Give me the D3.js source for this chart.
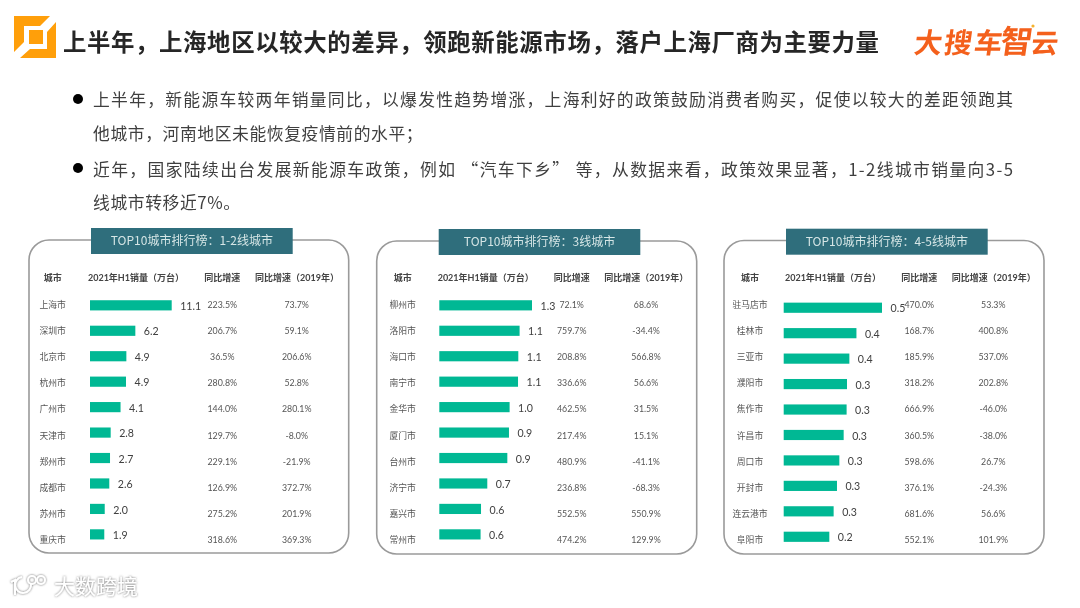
<!DOCTYPE html>
<html><head><meta charset="utf-8">
<script src="https://cdn.jsdelivr.net/npm/d3@7"></script>
<style>html,body{margin:0;padding:0;background:#fff;overflow:hidden}
svg{display:block;font-family:Lato,"Noto Sans CJK SC","Noto Sans",sans-serif}
.soft{filter:blur(0.4px)}</style>
</head><body><svg id="c" width="1080" height="608"></svg>
<script>
const titleText = "上半年，上海地区以较大的差异，领跑新能源市场，落户上海厂商为主要力量";
const bodyLines = [
 "上半年，新能源车较两年销量同比，以爆发性趋势增涨，上海利好的政策鼓励消费者购买，促使以较大的差距领跑其",
 "他城市，河南地区未能恢复疫情前的水平；",
 "近年，国家陆续出台发展新能源车政策，例如 “汽车下乡” 等，从数据来看，政策效果显著，1-2线城市销量向3-5",
 "线城市转移近7%。"
];
const headers = ["城市","2021年H1销量（万台）","同比增速","同比增速（2019年）"];

const titlesA = "TOP10城市排行榜：1-2线城市";
const citiesA = ["上海市","深圳市","北京市","杭州市","广州市","天津市","郑州市","成都市","苏州市","重庆市"];
const barsA   = [11.1,6.16,4.94,4.89,4.15,2.81,2.72,2.62,2.0,1.94];
const labelsA = ["11.1","6.2","4.9","4.9","4.1","2.8","2.7","2.6","2.0","1.9"];
const yoyA    = ["223.5%","206.7%","36.5%","280.8%","144.0%","129.7%","229.1%","126.9%","275.2%","318.6%"];
const yo19A   = ["73.7%","59.1%","206.6%","52.8%","280.1%","-8.0%","-21.9%","372.7%","201.9%","369.3%"];

const titlesB = "TOP10城市排行榜：3线城市";
const citiesB = ["柳州市","洛阳市","海口市","南宁市","金华市","厦门市","台州市","济宁市","嘉兴市","常州市"];
const barsB   = [1.3,1.126,1.108,1.104,0.986,0.977,0.954,0.673,0.585,0.579];
const labelsB = ["1.3","1.1","1.1","1.1","1.0","0.9","0.9","0.7","0.6","0.6"];
const yoyB    = ["72.1%","759.7%","208.8%","336.6%","462.5%","217.4%","480.9%","236.8%","552.5%","474.2%"];
const yo19B   = ["68.6%","-34.4%","566.8%","56.6%","31.5%","15.1%","-41.1%","-68.3%","550.9%","129.9%"];

const titlesC = "TOP10城市排行榜：4-5线城市";
const citiesC = ["驻马店市","桂林市","三亚市","濮阳市","焦作市","许昌市","周口市","开封市","连云港市","阜阳市"];
const barsC   = [0.5,0.37,0.334,0.322,0.32,0.305,0.283,0.271,0.254,0.232];
const labelsC = ["0.5","0.4","0.4","0.3","0.3","0.3","0.3","0.3","0.3","0.2"];
const yoyC    = ["470.0%","168.7%","185.9%","318.2%","666.9%","360.5%","598.6%","376.1%","681.6%","552.1%"];
const yo19C   = ["53.3%","400.8%","537.0%","202.8%","-46.0%","-38.0%","26.7%","-24.3%","56.6%","101.9%"];

const svg = d3.select("#c");
const root = svg.append("g").attr("class","soft");

// corner mark
const mark = root.append("g").attr("fill","#FF9F0A");
[[[14,16],[50,16],[40,26],[24,26],[24,42],[14,52]],
 [[56,22],[56,58],[20,58],[30,49],[47,49],[47,32]],
 [[29,30],[43,30],[43,44],[29,44]]].forEach(p=>mark.append("polygon").attr("points",p.join(" ")));

root.append("text").attr("x",63).attr("y",51).attr("font-size",23.4).attr("font-weight",700)
  .attr("fill","#262626").attr("textLength",816).attr("lengthAdjust","spacing").text(titleText);

// brand wordmark
const brand = root.append("g").attr("transform","translate(911,53) skewX(-8)")
  .attr("fill","#F4601C").attr("font-weight",700);
brand.append("text").attr("x",2).attr("font-size",28).attr("textLength",88).text("大搜车");
brand.append("text").attr("x",88).attr("y",0).attr("font-size",32).text("智");
brand.append("text").attr("x",119).attr("font-size",27).text("云");
root.append("circle").attr("cx",1033).attr("cy",26).attr("r",1.6).attr("fill","#F5B32E");

// body copy
const bodyY = [106,140,176,209];
const bodyW = [920,null,920,null];
bodyLines.forEach((t,i)=>{
  const tx = root.append("text").attr("x",93).attr("y",bodyY[i]).attr("font-size",16.8)
    .attr("fill","#3f3f3f").style("font-family",'"Noto Sans CJK SC"').text(t);
  if(bodyW[i]) tx.attr("textLength",bodyW[i]).attr("lengthAdjust","spacing");
  else tx.attr("letter-spacing",0.6);
});
[99,168].forEach(y=>root.append("circle").attr("cx",78).attr("cy",y).attr("r",5).attr("fill","#000"));

function panel(o){
  const g = root.append("g");
  g.append("rect").attr("x",o.box[0]).attr("y",o.box[1]).attr("width",o.box[2]-o.box[0]).attr("height",o.box[3]-o.box[1])
    .attr("rx",20).attr("fill","#fff").attr("stroke","#9a9a9a").attr("stroke-width",1.6);
  g.append("rect").attr("x",o.head[0]).attr("y",o.head[1]).attr("width",o.head[2]-o.head[0]).attr("height",26).attr("fill","#2F6E7C");
  g.append("text").attr("x",(o.head[0]+o.head[2])/2).attr("y",o.head[1]+17.2).attr("text-anchor","middle")
    .attr("font-size",12).attr("fill","#d6e6e6").style("font-family",'"Noto Sans CJK SC"').text(o.title);

  const hx = [o.cityX,o.hBar,o.yoyX,o.hY19];
  headers.forEach((h,i)=>g.append("text").attr("x",hx[i]).attr("y",o.headY+3.2).attr("text-anchor","middle")
    .attr("font-size",9).attr("font-weight",700).attr("fill","#444").text(h));

  const ids = o.cities.map((_,i)=>i);
  const yBar = d3.scaleBand().domain(ids).range([o.barTop,o.barTop+254.5]).paddingInner(0.6).paddingOuter(0.3);
  const yText = d3.scalePoint().domain(ids).range([o.textTop,o.textTop+235.5]);
  const x = d3.scaleLinear().domain([0,o.max]).range([o.barX,o.barEnd]);

  g.selectAll(".bar").data(o.bars).join("rect").attr("x",o.barX)
    .attr("y",(d,i)=>yBar(i)).attr("width",d=>x(d)-o.barX).attr("height",yBar.bandwidth()).attr("fill","#00B894");
  g.selectAll(".lab").data(o.labels).join("text").attr("x",(d,i)=>x(o.bars[i])+8.5)
    .attr("y",(d,i)=>yBar(i)+yBar.bandwidth()/2+4.6).attr("font-size",10.6).attr("fill","#404040").text(d=>d);

  const col = (arr,cx,size,fill)=>g.selectAll(null).data(arr).join("text").attr("x",cx)
    .attr("y",(d,i)=>yText(i)+3).attr("text-anchor","middle").attr("font-size",size).attr("fill",fill).text(d=>d);
  col(o.cities,o.cityX,8.8,"#555");
  col(o.yoy,o.yoyX,8.8,"#555");
  col(o.y19,o.y19X,8.8,"#555");
}

panel({box:[29,240,348.7,553],head:[91,228,292.7],title:titlesA,cities:citiesA,bars:barsA,labels:labelsA,yoy:yoyA,y19:yo19A,
  cityX:52.7,hBar:136,yoyX:222.3,hY19:297,y19X:296.7,headY:277.7,barX:90,barEnd:171.7,max:11.1,barTop:292.6,textTop:304.7});
panel({box:[376.7,241,696.7,554],head:[438.7,229,640.3],title:titlesB,cities:citiesB,bars:barsB,labels:labelsB,yoy:yoyB,y19:yo19B,
  cityX:402.7,hBar:485.7,yoyX:571.7,hY19:646.3,y19X:646,headY:277.7,barX:439.3,barEnd:532,max:1.3,barTop:292.6,textTop:304.7});
panel({box:[724,240.5,1044,554],head:[786,228.7,987.7],title:titlesC,cities:citiesC,bars:barsC,labels:labelsC,yoy:yoyC,y19:yo19C,
  cityX:750,hBar:833,yoyX:919.3,hY19:993.7,y19X:993.3,headY:277.7,barX:783.7,barEnd:882,max:0.5,barTop:295,textTop:304.7});

// watermark
const defs = svg.append("defs");
const f = defs.append("filter").attr("id","wm").attr("x","-20%").attr("y","-40%").attr("width","140%").attr("height","180%");
f.append("feDropShadow").attr("dx",0).attr("dy",0).attr("stdDeviation",1.2).attr("flood-color","#666").attr("flood-opacity",1);
const wm = svg.append("g").attr("filter","url(#wm)");
wm.append("text").attr("x",54).attr("y",594).attr("font-size",21).attr("fill","#fff").style("font-family",'"Noto Sans CJK SC"').text("大数跨境");
const wl = wm.append("g").attr("fill","none").attr("stroke","#fff").attr("stroke-width",2);
wl.append("path").attr("d","M11 582 L15 580 L15 595");
wl.append("path").attr("d","M31 584 A8 8 0 1 1 22 577");
wl.append("circle").attr("cx",32).attr("cy",580).attr("r",4);
wl.append("circle").attr("cx",41).attr("cy",580).attr("r",4);
</script></body></html>
